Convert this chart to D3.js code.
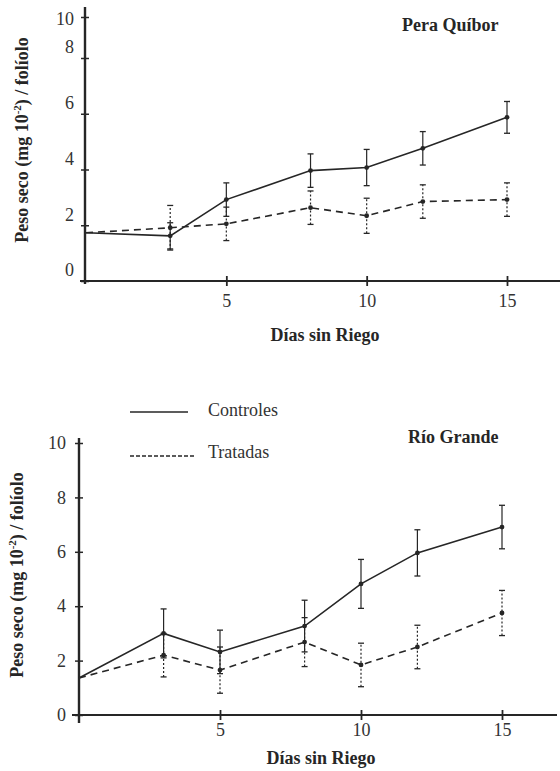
<!DOCTYPE html>
<html>
<head>
<meta charset="utf-8">
<script src="https://cdn.jsdelivr.net/npm/d3@7"></script>
<style>
  body { margin: 0; background: #fff; }
  svg { display: block; }
  svg text { font-family: 'Liberation Serif', 'DejaVu Serif', serif; }
  .axis text { font-size: 18px; fill: #333; }
</style>
</head>
<body>
<svg id="chart" width="560" height="771"></svg>
<script>
// days without irrigation
var days = [0, 3, 5, 8, 10, 12, 15];
var xTicks = [5, 10, 15];
var yTicks = [0, 2, 4, 6, 8, 10];

// Pera Quibor
var peraControles = [1.73, 1.62, 2.92, 3.96, 4.07, 4.76, 5.87];
var peraControlesErr = [0, 0.47, 0.6, 0.6, 0.65, 0.6, 0.57];
var peraTratadas = [1.73, 1.91, 2.05, 2.63, 2.34, 2.85, 2.92];
var peraTratadasErr = [0, 0.8, 0.6, 0.6, 0.63, 0.6, 0.6];

// Rio Grande
var rioControles = [1.36, 3.0, 2.32, 3.27, 4.82, 5.96, 6.91];
var rioControlesErr = [0, 0.9, 0.8, 0.95, 0.9, 0.85, 0.8];
var rioTratadas = [1.36, 2.2, 1.65, 2.68, 1.84, 2.5, 3.75];
var rioTratadasErr = [0, 0.8, 0.85, 0.9, 0.8, 0.8, 0.83];

var ink = '#262626';
var svg = d3.select('#chart');

function drawPanel(p) {
  let g = svg.append('g').attr('class', 'panel');

  let x = d3.scaleLinear().domain([0, 15]).range(p.xRange);
  let y = d3.scaleLinear().domain(p.yDomain).range(p.yRange);

  // axis lines (scan has them running a bit past the data area)
  g.append('line')
   .attr('x1', p.xLine[0]).attr('x2', p.xLine[1])
   .attr('y1', y(0)).attr('y2', y(0))
   .attr('stroke', ink).attr('stroke-width', 2);
  g.append('line')
   .attr('x1', x(0) - p.yAxisShift).attr('x2', x(0) - p.yAxisShift)
   .attr('y1', p.yLine[0]).attr('y2', p.yLine[1])
   .attr('stroke', ink).attr('stroke-width', 2.4);

  let yAxis = g.append('g')
               .attr('class', 'axis')
               .attr('transform', 'translate(' + (x(0) - p.yAxisShift) + ',0)')
               .call(d3.axisLeft(y).tickValues(yTicks).tickSize(0).tickPadding(p.yPad))
               .attr('font-family', null)
               .attr('font-size', null);
  yAxis.select('.domain').remove();
  yAxis.selectAll('text')
       .attr('dy', '0.32em')
       .attr('transform', d => 'translate(0,' + p.labelNudge(d) + ')');
  yAxis.selectAll('.tick').append('line')
       .attr('x1', -4).attr('x2', 4)
       .attr('stroke', ink).attr('stroke-width', 1.5);

  let xAxis = g.append('g')
               .attr('class', 'axis')
               .attr('transform', 'translate(0,' + y(0) + ')')
               .call(d3.axisBottom(x).tickValues(xTicks).tickSize(0).tickPadding(p.xPad))
               .attr('font-family', null)
               .attr('font-size', null);
  xAxis.select('.domain').remove();
  xAxis.selectAll('.tick').append('line')
       .attr('y1', -5).attr('y2', 5)
       .attr('stroke', ink).attr('stroke-width', 1.8);

  // series
  let series = [
    {vals: p.controles, err: p.controlesErr, dash: null, barDash: null},
    {vals: p.tratadas, err: p.tratadasErr, dash: '7,5', barDash: '2,2'}
  ];

  let line = d3.line()
               .x(d => x(d.day))
               .y(d => y(d.v));

  series.forEach(function (s) {
    let pts = days.map((d, i) => ({day: d, v: s.vals[i], e: s.err[i]}));

    let bars = g.append('g').selectAll('g')
                .data(pts.filter(d => d.e > 0))
                .enter()
                .append('g');
    bars.append('line')
        .attr('x1', d => x(d.day)).attr('x2', d => x(d.day))
        .attr('y1', d => y(d.v - d.e)).attr('y2', d => y(d.v + d.e))
        .attr('stroke', ink).attr('stroke-width', 1.2)
        .attr('stroke-dasharray', s.barDash);
    bars.selectAll('.cap')
        .data(d => [d.v - d.e, d.v + d.e].map(v => ({day: d.day, v: v})))
        .enter()
        .append('line')
        .attr('class', 'cap')
        .attr('x1', d => x(d.day) - 3).attr('x2', d => x(d.day) + 3)
        .attr('y1', d => y(d.v)).attr('y2', d => y(d.v))
        .attr('stroke', ink).attr('stroke-width', 1.3);

    g.append('path')
     .datum(pts)
     .attr('d', line)
     .attr('fill', 'none')
     .attr('stroke', ink)
     .attr('stroke-width', 1.6)
     .attr('stroke-dasharray', s.dash);

    g.append('g').selectAll('circle')
     .data(pts.slice(1))
     .enter()
     .append('circle')
     .attr('cx', d => x(d.day))
     .attr('cy', d => y(d.v))
     .attr('r', 2.4)
     .attr('fill', ink);
  });

  // titles
  g.append('text')
   .attr('x', p.title[0]).attr('y', p.title[1])
   .attr('font-size', 18).attr('font-weight', 'bold').attr('fill', ink)
   .text(p.name);

  g.append('text')
   .attr('x', p.xTitle[0]).attr('y', p.xTitle[1])
   .attr('text-anchor', 'middle')
   .attr('font-size', 18).attr('font-weight', 'bold').attr('fill', ink)
   .text('Días sin Riego');

  let yt = g.append('text')
            .attr('transform', 'translate(' + p.yTitle[0] + ',' + p.yTitle[1] + ') rotate(-90)')
            .attr('text-anchor', 'middle')
            .attr('font-size', 18).attr('font-weight', 'bold').attr('fill', ink);
  yt.append('tspan').text('Peso seco (mg 10');
  yt.append('tspan').attr('font-size', 11).attr('dy', -7).text('-2');
  yt.append('tspan').attr('dy', 7).text(') / folíolo');
}

drawPanel({
  name: 'Pera Quíbor',
  controles: peraControles, controlesErr: peraControlesErr,
  tratadas: peraTratadas, tratadasErr: peraTratadasErr,
  xRange: [86, 507],
  yDomain: [0, 8, 10], yRange: [281, 58, 17], // scan has the top of the axis squeezed
  xLine: [80, 560], yLine: [7, 284], yAxisShift: 1,
  yPad: 11, xPad: 13,
  labelNudge: d => d === 10 ? 2 : -11,
  title: [402, 31], xTitle: [325, 341], yTitle: [28, 140]
});

drawPanel({
  name: 'Río Grande',
  controles: rioControles, controlesErr: rioControlesErr,
  tratadas: rioTratadas, tratadasErr: rioTratadasErr,
  xRange: [79, 502],
  yDomain: [0, 10], yRange: [715, 443],
  xLine: [72, 557], yLine: [438, 723], yAxisShift: 0,
  yPad: 13, xPad: 8,
  labelNudge: d => 0,
  title: [408, 443], xTitle: [321, 764], yTitle: [23, 575]
});

// legend
var legend = svg.append('g').attr('class', 'legend');
var legendItems = ['Controles', 'Tratadas'];
var legendDash = [null, '4,2'];
legend.selectAll('line')
      .data(legendItems)
      .enter()
      .append('line')
      .attr('x1', 130).attr('x2', (d, i) => i ? 195 : 188)
      .attr('y1', (d, i) => 412 + i * 44).attr('y2', (d, i) => 412 + i * 44)
      .attr('stroke', ink).attr('stroke-width', 1.4)
      .attr('stroke-dasharray', (d, i) => legendDash[i]);
legend.selectAll('text')
      .data(legendItems)
      .enter()
      .append('text')
      .attr('x', 208).attr('y', (d, i) => 416 + i * 42)
      .attr('font-size', 18).attr('fill', '#333')
      .text(d => d);
</script>
</body>
</html>
